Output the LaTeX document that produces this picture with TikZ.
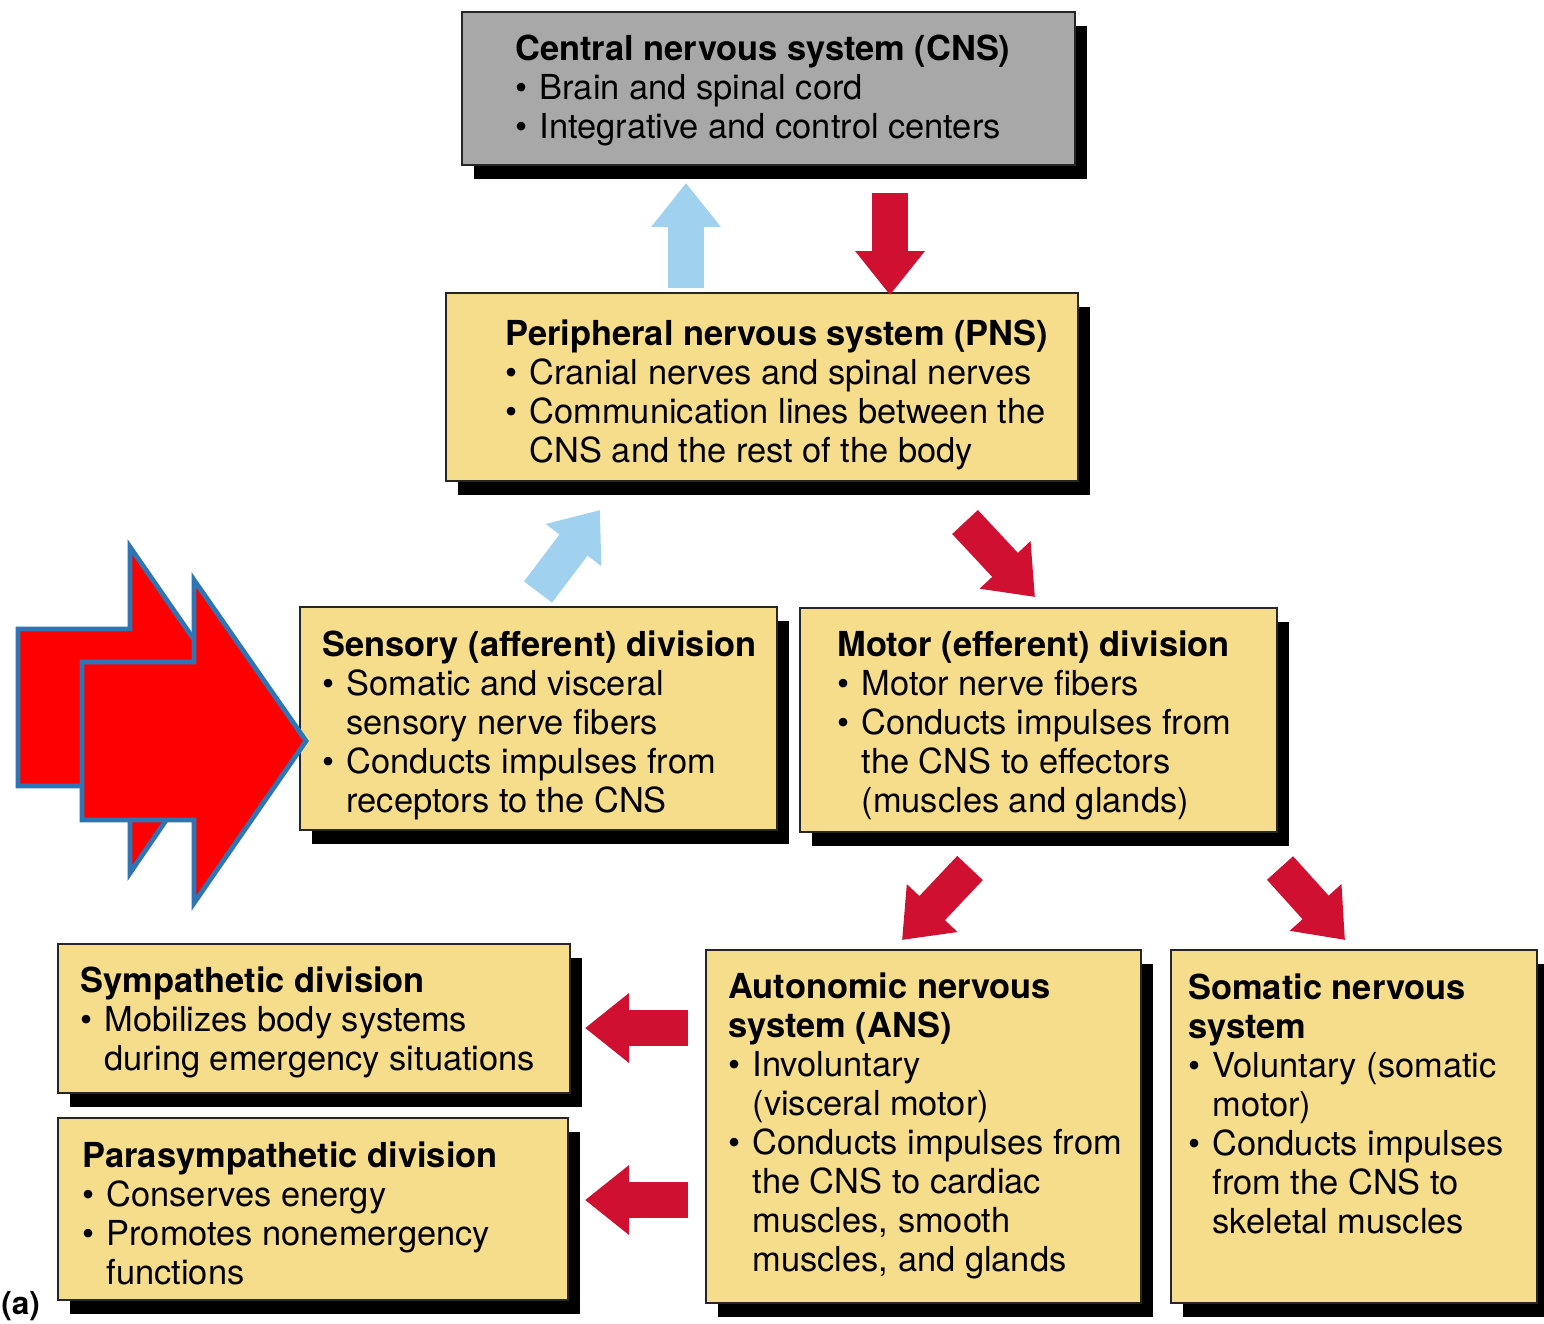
\documentclass[tikz,border=0pt]{standalone}
\usepackage{fontspec}
\setmainfont{TeX Gyre Heros}
\usetikzlibrary{arrows.meta,fit,shadows}
\definecolor{boxyellow}{RGB}{246,221,140}
\definecolor{boxgray}{RGB}{168,168,168}
\definecolor{arrred}{RGB}{208,16,48}
\definecolor{arrblue}{RGB}{160,210,240}
\definecolor{bigred}{RGB}{255,0,0}
\definecolor{bigblue}{RGB}{46,117,182}
\newcommand\bul{\textbullet\kern1.5pt\ }
\newcommand\indt{\hphantom{\textbullet\kern1.5pt\ }}
\begin{document}
\begin{tikzpicture}[x=0.02cm,y=-0.02cm,
  panel/.style={draw=black!85, line width=1pt, inner sep=0pt,
    general shadow={fill=black, shadow xshift=0.24cm, shadow yshift=-0.28cm}},
  ybox/.style={panel, fill=boxyellow},
  gbox/.style={panel, fill=boxgray},
  txt/.style={anchor=north west, align=left, inner sep=0pt,
    font=\fontsize{19.6}{22.2}\selectfont},
  fat/.style={line width=20pt, -{Triangle[width=38pt,length=25pt]}},
  redarr/.style={fat, draw=arrred},
  bluearr/.style={fat, draw=arrblue},
  bigarrow/.style={fill=bigred, draw=bigblue, line width=2.8pt, line join=miter}
]
\useasboundingbox (0,0) rectangle (1544,1323);

% boxes
\node[gbox, fit={(462,12)(1075,165)}] (cns) {};
\node[ybox, fit={(446,293)(1078,481)}] (pns) {};
\node[ybox, fit={(300,607)(777,830)}] (sens) {};
\node[ybox, fit={(800,608)(1277,832)}] (mot) {};
\node[ybox, fit={(58,944)(570,1093)}] (symp) {};
\node[ybox, fit={(58,1118)(568,1300)}] (para) {};
\node[ybox, fit={(706,950)(1141,1303)}] (ans) {};
\node[ybox, fit={(1171,950)(1537,1303)}] (som) {};

% texts
\node[txt] (cnst) at (515,35) {\textbf{Central nervous system (CNS)}\\
  \bul Brain and spinal cord\\
  \bul Integrative and control centers};
\node[txt] (pnst) at (505,319) {\textbf{Peripheral nervous system (PNS)}\\
  \bul Cranial nerves and spinal nerves\\
  \bul Communication lines between the\\
  \indt CNS and the rest of the body};
\node[txt] (senst) at (322,630) {\textbf{Sensory (afferent) division}\\
  \bul Somatic and visceral\\
  \indt sensory nerve fibers\\
  \bul Conducts impulses from\\
  \indt receptors to the CNS};
\node[txt] (mott) at (837,630) {\textbf{Motor (efferent) division}\\
  \bul Motor nerve fibers\\
  \bul Conducts impulses from\\
  \indt the CNS to effectors\\
  \indt (muscles and glands)};
\node[txt] (sympt) at (80,966) {\textbf{Sympathetic division}\\
  \bul Mobilizes body systems\\
  \indt during emergency situations};
\node[txt] (parat) at (82,1141) {\textbf{Parasympathetic division}\\
  \bul Conserves energy\\
  \bul Promotes nonemergency\\
  \indt functions};
\node[txt] (anst) at (728,972) {\textbf{Autonomic nervous}\\
  \textbf{system (ANS)}\\
  \bul Involuntary\\
  \indt (visceral motor)\\
  \bul Conducts impulses from\\
  \indt the CNS to cardiac\\
  \indt muscles, smooth\\
  \indt muscles, and glands};
\node[txt] (somt) at (1188,973) {\textbf{Somatic nervous}\\
  \textbf{system}\\
  \bul Voluntary (somatic\\
  \indt motor)\\
  \bul Conducts impulses\\
  \indt from the CNS to\\
  \indt skeletal muscles};
\node[anchor=base west, inner sep=0pt, font=\fontsize{18}{20}\selectfont\bfseries] (lbl) at (1,1314) {(a)};

% arrow end points
\coordinate (a1s) at (686,288); \coordinate (a1e) at (686,183);
\coordinate (a2s) at (890,193); \coordinate (a2e) at (890,295);
\coordinate (a3s) at (538,592); \coordinate (a3e) at (600,510);
\coordinate (a4s) at (965,522); \coordinate (a4e) at (1035,597);
\coordinate (a5s) at (970,868); \coordinate (a5e) at (902,940);
\coordinate (a6s) at (1280,868); \coordinate (a6e) at (1345,940);
\coordinate (a7s) at (688,1028); \coordinate (a7e) at (585,1028);
\coordinate (a8s) at (688,1200); \coordinate (a8e) at (585,1200);

\draw[bluearr] (a1s) -- (a1e);
\draw[redarr] (a2s) -- (a2e);
\draw[bluearr] (a3s) -- (a3e);
\draw[redarr] (a4s) -- (a4e);
\draw[redarr] (a5s) -- (a5e);
\draw[redarr] (a6s) -- (a6e);
\draw[redarr] (a7s) -- (a7e);
\draw[redarr] (a8s) -- (a8e);

% big pointer arrows
\draw[bigarrow] (18,629) -- (130,629) -- (130,547) -- (242,709) -- (130,873) -- (130,786) -- (18,786) -- cycle;
\draw[bigarrow] (82,662) -- (194,662) -- (194,580) -- (306,741) -- (194,903) -- (194,820) -- (82,820) -- cycle;
\end{tikzpicture}
\end{document}
